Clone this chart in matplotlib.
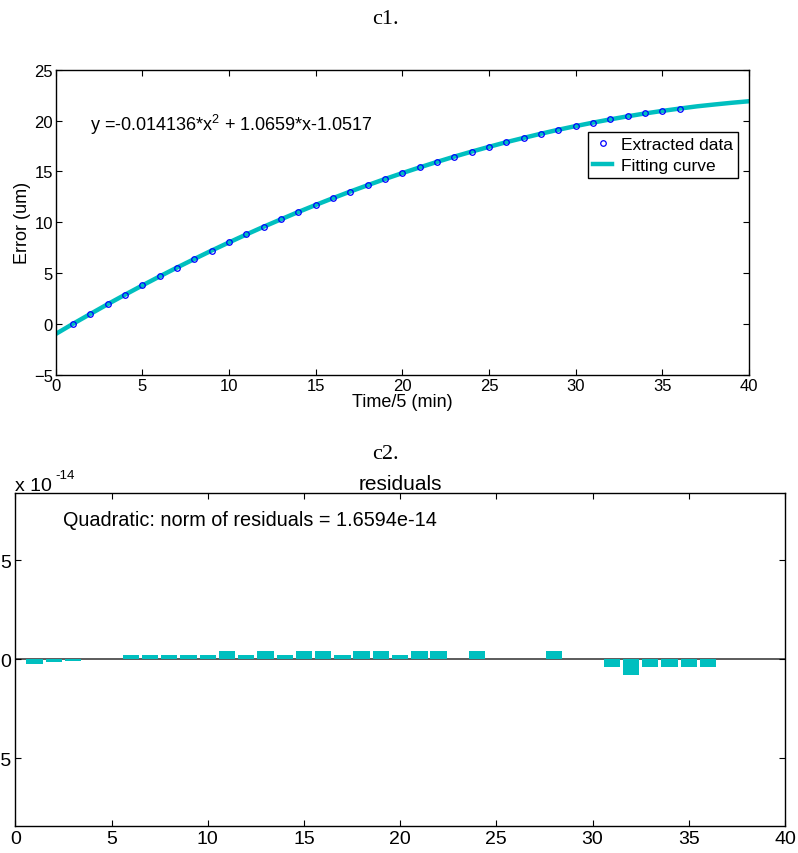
import matplotlib
matplotlib.use("Agg")
import matplotlib.pyplot as plt
import numpy as np

# extracted error data (Time/5 index vs error in um)
DATA_X = list(range(1, 37))
DATA_Y = [0.03, 1.00, 1.96, 2.89, 3.80, 4.69, 5.56, 6.40, 7.23, 8.03,
          8.81, 9.57, 10.30, 11.02, 11.71, 12.38, 13.03, 13.65, 14.26, 14.84,
          15.40, 15.94, 16.46, 16.95, 17.42, 17.88, 18.30, 18.71, 19.10, 19.46,
          19.80, 20.12, 20.42, 20.70, 20.95, 21.18]

# fitted curve as drawn (0..40)
CURVE_X = list(range(0, 41))
CURVE_Y = [-0.97, 0.03, 1.00, 1.96, 2.89, 3.80, 4.69, 5.56, 6.40, 7.23, 8.03,
           8.81, 9.57, 10.30, 11.02, 11.71, 12.38, 13.03, 13.65, 14.26, 14.84,
           15.40, 15.94, 16.46, 16.95, 17.42, 17.88, 18.30, 18.71, 19.10, 19.46,
           19.80, 20.12, 20.42, 20.70, 20.95, 21.18, 21.40, 21.58, 21.75, 21.90]

# residuals in units of 1e-14
RESID_X = list(range(1, 37))
RESID_Y = [-0.25, -0.15, -0.10, 0.0, 0.0, 0.22, 0.22, 0.22, 0.22, 0.22,
           0.40, 0.22, 0.40, 0.22, 0.40, 0.40, 0.22, 0.40, 0.40, 0.22,
           0.40, 0.40, 0.0, 0.40, 0.0, 0.0, 0.0, 0.40, 0.0, 0.0,
           -0.40, -0.80, -0.40, -0.40, -0.40, -0.40]

TOP_YTICKS = [-5, 0, 5, 10, 15, 20, 25]
X_TICKS = [0, 5, 10, 15, 20, 25, 30, 35, 40]
RES_YTICKS = [-5, 0, 5]

CYAN = "#00BFBF"
SANS = "Liberation Sans"

plt.rcParams.update({
    "font.family": SANS,
    "mathtext.fontset": "custom",
    "mathtext.rm": SANS,
    "mathtext.it": SANS,
    "axes.linewidth": 1.0,
    "xtick.direction": "in",
    "ytick.direction": "in",
    "xtick.top": True,
    "ytick.right": True,
    "xtick.major.size": 4,
    "ytick.major.size": 4,
})

W, H = 798, 854
fig = plt.figure(figsize=(W / 100, H / 100), dpi=100)


def box(left, top, right, bottom):
    return [left / W, 1 - bottom / H, (right - left) / W, (bottom - top) / H]


# ---- c1: data and fit ----
ax1 = fig.add_axes(box(55.7, 70.7, 749, 376))
ax1.plot(CURVE_X, CURVE_Y, color=CYAN, linewidth=3.2, label="Fitting curve", zorder=2)
ax1.plot(DATA_X, DATA_Y, "o", markersize=4, markerfacecolor="none",
         markeredgecolor="#0000FF", markeredgewidth=0.9, label="Extracted data", zorder=3)
ax1.set_xlim(0, 40)
ax1.set_ylim(-5, 25)
ax1.set_xticks(X_TICKS)
ax1.set_yticks(TOP_YTICKS)
ax1.tick_params(labelsize=12, pad=2)
ax1.set_xlabel("Time/5 (min)", fontsize=13, labelpad=0)
ax1.set_ylabel("Error (um)", fontsize=13, labelpad=2)
ax1.text(90 / W, 1 - 125 / H, r"y =-0.014136*x$^{2}$ + 1.0659*x-1.0517",
         transform=fig.transFigure, fontsize=13, ha="left", va="center")
handles, labels = ax1.get_legend_handles_labels()
leg = ax1.legend(handles[::-1], labels[::-1], loc="upper right",
                 bbox_to_anchor=(738 / W, 1 - 133 / H), bbox_transform=fig.transFigure,
                 fontsize=12.5, frameon=True, fancybox=False, framealpha=1,
                 handlelength=1.1, handletextpad=0.5, borderpad=0.3,
                 labelspacing=0.3, borderaxespad=0, markerfirst=True)
leg.get_frame().set_edgecolor("black")
leg.get_frame().set_linewidth(1.0)

fig.text(385 / W, 1 - 20 / H, "c1.", family="Liberation Serif", fontsize=16,
         ha="center", va="center")

# ---- c2: residuals ----
ax2 = fig.add_axes(box(15.3, 494, 785, 826.7))
ax2.bar(RESID_X, RESID_Y, width=0.85, color=CYAN, edgecolor="none", zorder=2)
ax2.axhline(0, color="#404040", linewidth=1.2, zorder=1)
ax2.set_xlim(0, 40)
ax2.set_ylim(-8.4, 8.4)
ax2.set_xticks(X_TICKS)
ax2.set_yticks(RES_YTICKS)
ax2.tick_params(labelsize=14, pad=3)
ax2.set_title("residuals", fontsize=15, pad=2)
ax2.text(63 / W, 1 - 520 / H, "Quadratic: norm of residuals = 1.6594e-14",
         transform=fig.transFigure, fontsize=14.3, ha="left", va="center")
fig.text(15 / W, 1 - 487 / H, "x 10", fontsize=14, ha="left", va="center")
fig.text(55 / W, 1 - 476 / H, "-14", fontsize=9.5, ha="left", va="center")

fig.text(385 / W, 1 - 455 / H, "c2.", family="Liberation Serif", fontsize=16,
         ha="center", va="center")

fig.savefig("out.png", dpi=100)
